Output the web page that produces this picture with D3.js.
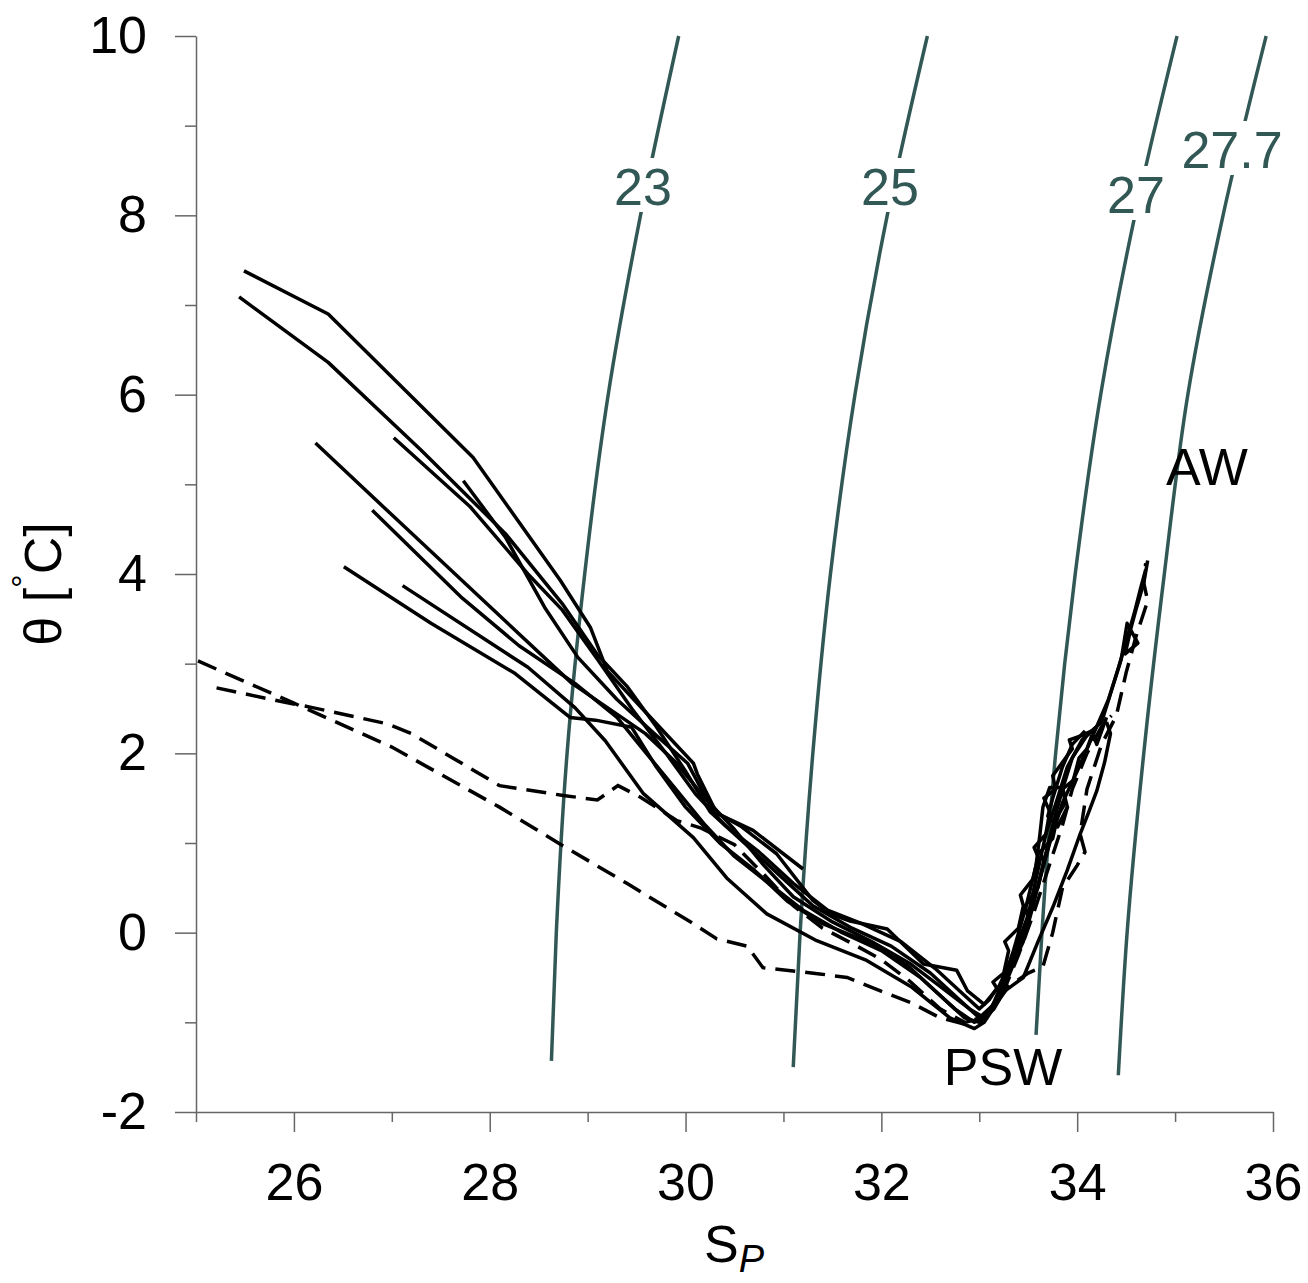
<!DOCTYPE html>
<html>
<head>
<meta charset="utf-8">
<script src="https://cdn.jsdelivr.net/npm/d3@7"></script>
<style>
    body { margin: 0; background: #fff; }
    svg { display: block; font-family: "Liberation Sans", Arial, sans-serif; }
    .axis path, .axis line { stroke: #666; stroke-width: 1.5; }
    .axis text { font-size: 52px; fill: #000; font-family: "Liberation Sans", Arial, sans-serif; }
</style>
</head>
<body>
<div id="chart"></div>
<script>
// 1: DATA
const xTicks = [26, 28, 30, 32, 34, 36];
const xMinorTicks = [25, 27, 29, 31, 33, 35];
const yTicks = [-2, 0, 2, 4, 6, 8, 10];
const yMinorTicks = [-1, 1, 3, 5, 7, 9];

// isopycnals (sigma-theta): [S, theta] along each curve
const isoNames = ["23", "25", "27", "27.7"];
const iso23 = [[28.63, -1.43], [28.68, 0], [28.79, 2], [28.97, 4], [29.21, 6], [29.54, 8], [29.93, 10]];
const iso25 = [[31.10, -1.5], [31.17, 0], [31.30, 2], [31.48, 4], [31.73, 6], [32.06, 8], [32.47, 10]];
const iso27 = [[33.58, -1.14], [33.64, 0], [33.78, 2], [33.98, 4], [34.24, 6], [34.59, 8], [35.02, 10]];
const iso277 = [[34.42, -1.59], [34.51, 0], [34.68, 2], [34.89, 4], [35.13, 6], [35.49, 8], [35.93, 10]];

// CTD profiles [S, theta]
const profile1 = [[25.49, 7.38], [26.35, 6.90], [27.83, 5.30], [28.72, 3.93], [29.03, 3.40], [29.2, 2.92],
    [29.6, 2.45], [30.08, 1.89], [30.12, 1.77], [30.32, 1.33], [30.69, 1.14], [31.2, 0.71]];
const profile2 = [[25.44, 7.09], [26.35, 6.36], [27.3, 5.38], [28.16, 4.45], [28.74, 3.67], [29.1, 3.1],
    [29.4, 2.75], [29.7, 2.3], [30.0, 1.8], [30.25, 1.35], [30.6, 1.0], [30.95, 0.65], [31.3, 0.3],
    [31.7, 0.05], [32.1, -0.15], [32.5, -0.45], [32.8, -0.75], [33.0, -0.95], [33.15, -0.8], [33.3, -0.45],
    [33.45, -0.1], [33.55, 0.3], [33.65, 0.75], [33.75, 1.2], [33.85, 1.6], [33.95, 1.95], [34.1, 2.2],
    [34.25, 2.35], [34.35, 2.7], [34.45, 3.05], [34.51, 3.45], [34.62, 3.23], [34.49, 3.11], [34.55, 3.4],
    [34.6, 3.6], [34.68, 3.9], [34.72, 4.15]];
const profile3 = [[26.22, 5.46], [27.0, 4.66], [27.9, 3.74], [28.84, 2.78], [29.59, 2.22], [29.9, 1.9],
    [30.2, 1.5], [30.5, 1.15], [30.8, 0.75], [31.1, 0.4], [31.5, 0.12], [31.9, -0.1], [32.3, -0.35],
    [32.6, -0.6], [32.9, -0.85], [33.05, -0.95], [33.2, -0.7], [33.45, -0.5], [33.6, -0.1], [33.75, 0.28],
    [33.9, 0.7], [34.03, 1.1], [34.12, 1.35], [34.2, 1.58], [34.28, 1.9], [34.34, 2.22], [34.3, 2.35]];
const profile4 = [[27.02, 5.52], [27.8, 4.75], [28.39, 4.0], [28.74, 3.6], [29.1, 3.05], [29.45, 2.5],
    [29.8, 2.0], [30.1, 1.55], [30.4, 1.2], [30.75, 0.9], [31.1, 0.55], [31.45, 0.25], [31.8, 0.1],
    [32.2, -0.1], [32.55, -0.4], [32.85, -0.7], [33.0, -0.85], [33.1, -0.75], [33.18, -0.62], [33.14, -0.55],
    [33.25, -0.45], [33.3, -0.2], [33.26, -0.1], [33.4, 0.05], [33.45, 0.3], [33.42, 0.42], [33.55, 0.6],
    [33.6, 0.85], [33.56, 0.95], [33.68, 1.1], [33.72, 1.35], [33.66, 1.5], [33.78, 1.6], [33.75, 1.75],
    [33.85, 1.9], [33.95, 2.05], [33.92, 2.15], [34.05, 2.2], [34.15, 2.25], [34.2, 2.1], [34.3, 2.4]];
const profile5 = [[27.73, 5.04], [28.16, 4.41], [28.56, 3.63], [28.9, 3.07], [29.3, 2.6], [29.7, 2.2],
    [30.02, 1.89], [30.28, 1.36], [30.56, 1.19], [30.93, 0.88], [31.3, 0.36], [31.48, 0.21], [31.68, 0.13],
    [32.06, 0.04], [32.43, -0.35], [32.77, -0.42], [32.88, -0.65], [33.05, -0.8], [33.2, -0.6], [33.35, -0.25],
    [33.5, 0.2], [33.6, 0.7], [33.68, 1.1], [33.8, 1.5], [33.9, 1.85], [34.05, 2.15], [34.2, 2.3]];
const profile6 = [[26.8, 4.71], [27.72, 3.73], [28.3, 3.2], [28.87, 2.78], [29.3, 2.4], [29.6, 2.0],
    [29.9, 1.6], [30.2, 1.2], [30.5, 0.85], [30.85, 0.55], [31.2, 0.25], [31.6, 0.0], [32.0, -0.2],
    [32.4, -0.5], [32.75, -0.85], [32.95, -1.0], [33.1, -0.9], [33.22, -0.6], [33.35, -0.2], [33.48, 0.3],
    [33.58, 0.75], [33.62, 1.1], [33.65, 1.4], [33.72, 1.62], [33.85, 1.62], [33.9, 1.4], [33.8, 1.18],
    [33.7, 1.3], [33.75, 1.5], [33.85, 1.85], [33.95, 2.1], [34.08, 2.25]];
const profile7 = [[26.51, 4.08], [27.4, 3.45], [28.26, 2.89], [28.82, 2.4], [29.08, 2.37], [29.45, 2.29],
    [29.7, 1.85], [30.0, 1.4], [30.35, 1.0], [30.7, 0.7], [31.04, 0.35], [31.4, 0.1], [31.85, -0.1],
    [32.25, -0.35], [32.6, -0.7], [32.85, -0.95], [33.0, -1.0], [33.15, -0.85], [33.28, -0.6], [33.24, -0.5],
    [33.36, -0.3], [33.42, -0.05], [33.5, 0.15], [33.47, 0.3], [33.6, 0.5], [33.66, 0.8], [33.62, 0.9],
    [33.75, 1.05], [33.8, 1.3], [33.88, 1.45], [33.85, 1.6], [33.96, 1.7], [34.02, 1.95], [34.1, 2.05], [34.15, 2.2]];
const profile8 = [[27.11, 3.87], [28.39, 2.96], [28.87, 2.51], [29.18, 2.14], [29.57, 1.55], [30.08, 1.06],
    [30.42, 0.61], [30.83, 0.21], [31.34, -0.09], [31.85, -0.31], [32.3, -0.6], [32.7, -0.95], [32.95, -1.07],
    [33.05, -1.0], [33.2, -0.75], [33.35, -0.35], [33.5, 0.15], [33.62, 0.6], [33.72, 1.0], [33.85, 1.45],
    [34.0, 1.8], [34.1, 2.05], [34.2, 2.3], [34.32, 2.6], [34.42, 2.95], [34.5, 3.25], [34.58, 3.55],
    [34.65, 3.85], [34.7, 4.05]];
// dashed profiles
const dashed1 = [[25.02, 3.03], [26.0, 2.56], [27.0, 2.07], [28.1, 1.40], [28.7, 1.0], [29.4, 0.55],
    [30.08, 0.10], [30.32, -0.07], [30.63, -0.15], [30.79, -0.39], [31.37, -0.46], [31.65, -0.5], [31.99, -0.65],
    [32.3, -0.78], [32.6, -0.95], [32.85, -1.02], [33.1, -0.9], [33.3, -0.6], [33.5, -0.45], [33.65, -0.38],
    [33.75, 0.0], [33.85, 0.5], [34.0, 0.75], [34.08, 0.9], [34.03, 1.1], [34.1, 1.6], [34.25, 2.1],
    [34.4, 2.42], [34.5, 2.9], [34.6, 3.3], [34.72, 3.7], [34.68, 3.9], [34.7, 4.12]];
const dashed2 = [[25.21, 2.73], [25.86, 2.58], [26.19, 2.51], [26.95, 2.33], [27.2, 2.22], [28.1, 1.64],
    [28.75, 1.53], [29.1, 1.48], [29.31, 1.64], [29.54, 1.51], [29.91, 1.25], [30.15, 1.17], [30.5, 0.98],
    [30.8, 0.65], [31.1, 0.3], [31.4, 0.05], [31.7, -0.12], [32.0, -0.3], [32.3, -0.55], [32.6, -0.85],
    [32.85, -1.0], [33.05, -0.95], [33.25, -0.65], [33.4, -0.25], [33.55, 0.2], [33.7, 0.7], [33.85, 1.2],
    [33.95, 1.6], [34.1, 2.0], [34.25, 2.3], [34.35, 2.42]];

const isopycnals = [iso23, iso25, iso27, iso277];
const solidProfiles = [profile1, profile2, profile3, profile4, profile5, profile6, profile7, profile8];
const dashedProfiles = [dashed1, dashed2];

// 2: SVG + SCALES
const W = 1308, H = 1283;
const isoColor = "#325856";

const svg = d3.select("#chart")
    .append("svg")
    .attr("width", W)
    .attr("height", H);

const xScale = d3.scaleLinear().domain([25, 36]).range([196, 1273]);
const yScale = d3.scaleLinear().domain([-2, 10]).range([1112, 36]);

const line = d3.line()
    .x(d => xScale(d[0]))
    .y(d => yScale(d[1]))
    .curve(d3.curveMonotoneY);

const profileLine = d3.line()
    .x(d => xScale(d[0]))
    .y(d => yScale(d[1]));

// 3: ISOPYCNALS
svg.append("g")
    .selectAll("path")
    .data(isopycnals)
    .enter()
    .append("path")
    .attr("d", d => line(d))
    .style("fill", "none")
    .style("stroke", isoColor)
    .style("stroke-width", 3.5);

// labels sit in a gap of the curve
const isoLabelPos = [[643, 205], [890, 205], [1136, 213], [1232, 168]];
isoNames.forEach((name, i) => {
    const g = svg.append("g");
    const t = g.append("text")
        .attr("x", isoLabelPos[i][0])
        .attr("y", isoLabelPos[i][1])
        .attr("text-anchor", "middle")
        .style("font-size", "52px")
        .style("fill", isoColor)
        .text(name);
    const bb = t.node().getBBox();
    g.insert("rect", "text")
        .attr("x", bb.x - 2)
        .attr("y", bb.y)
        .attr("width", bb.width + 4)
        .attr("height", bb.height - 4)
        .style("fill", "#fff");
});

// 4: PROFILES
svg.append("g")
    .selectAll("path")
    .data(solidProfiles)
    .enter()
    .append("path")
    .attr("d", d => profileLine(d))
    .style("fill", "none")
    .style("stroke", "#000")
    .style("stroke-width", 3.5)
    .style("stroke-linejoin", "round");

svg.append("g")
    .selectAll("path")
    .data(dashedProfiles)
    .enter()
    .append("path")
    .attr("d", d => profileLine(d))
    .style("fill", "none")
    .style("stroke", "#000")
    .style("stroke-width", 3.5)
    .style("stroke-dasharray", "20,10");

// 5: AXES
svg.append("g")
    .attr("class", "axis")
    .attr("transform", `translate(${xScale(25)},0)`)
    .call(d3.axisLeft(yScale).tickValues(yTicks).tickSize(21).tickSizeOuter(0).tickPadding(28)
        .tickFormat(d => String(d)));
svg.append("g")
    .attr("class", "axis minor")
    .attr("transform", `translate(${xScale(25)},0)`)
    .call(d3.axisLeft(yScale).tickValues(yMinorTicks).tickSize(11).tickFormat(""))
    .select(".domain").remove();

svg.append("g")
    .attr("class", "axis")
    .attr("transform", `translate(0,${yScale(-2)})`)
    .call(d3.axisBottom(xScale).tickValues(xTicks).tickSize(20).tickSizeOuter(0).tickPadding(31)
        .tickFormat(d => String(d)));
svg.append("g")
    .attr("class", "axis minor")
    .attr("transform", `translate(0,${yScale(-2)})`)
    .call(d3.axisBottom(xScale).tickValues(xMinorTicks).tickSize(10).tickFormat(""))
    .select(".domain").remove();

// 6: LABELS
const yTitle = svg.append("text")
    .attr("transform", "translate(61,584) rotate(-90)")
    .attr("text-anchor", "middle")
    .style("font-size", "52px");
yTitle.append("tspan").text("θ [");
yTitle.append("tspan").attr("dy", -26).style("font-size", "34px").text("°");
yTitle.append("tspan").attr("dy", 26).text("C]");

const xTitle = svg.append("text")
    .attr("x", 734)
    .attr("y", 1262)
    .attr("text-anchor", "middle")
    .style("font-size", "52px");
xTitle.append("tspan").text("S");
xTitle.append("tspan").attr("dy", 10).style("font-size", "38px").style("font-style", "italic").text("P");

svg.append("text")
    .attr("x", 1207).attr("y", 485)
    .attr("text-anchor", "middle")
    .style("font-size", "52px")
    .text("AW");
svg.append("text")
    .attr("x", 1003).attr("y", 1085)
    .attr("text-anchor", "middle")
    .style("font-size", "52px")
    .text("PSW");
</script>
</body>
</html>
